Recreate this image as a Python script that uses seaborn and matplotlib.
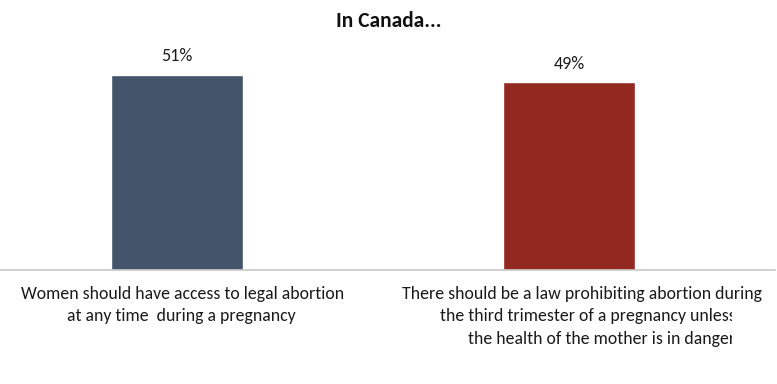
import matplotlib
matplotlib.use("Agg")
import matplotlib.pyplot as plt
import matplotlib.transforms as mtransforms
import seaborn as sns
import pandas as pd

title = "In Canada..."
categories = ["access", "law"]
values = [51, 49]
value_labels = ["51%", "49%"]
colors = ["#44546A", "#922820"]
label_lines = [
    ["Women should have access to legal abortion", "at any time  during a pregnancy"],
    ["There should be a law prohibiting abortion during",
     "the third trimester of a pregnancy unless",
     "the health of the mother is in danger"],
]
# horizontal nudge (px) of each label line from its bar centre
label_shift = [[5, 4], [13, 19, 33]]

sns.set_theme(style="white")
plt.rcParams["font.family"] = ["Carlito", "DejaVu Sans"]

df = pd.DataFrame({"cat": categories, "val": values})

fig = plt.figure(figsize=(7.77, 3.84), dpi=100)
ax = fig.add_axes([0, (384 - 270) / 384, 775 / 777, 230 / 384])

sns.barplot(data=df, x="cat", y="val", hue="cat", palette=colors, legend=False,
            width=0.337, ax=ax, saturation=1)

ax.set_ylim(0, 60)
ax.set_xlim(-0.452, 1.526)
ax.set_xticks([])
ax.set_yticks([])
ax.set_xlabel("")
ax.set_ylabel("")
for s in ["top", "left", "right"]:
    ax.spines[s].set_visible(False)
ax.spines["bottom"].set_color("#C8C8C8")
ax.spines["bottom"].set_linewidth(1.2)

for i, (v, lab) in enumerate(zip(values, value_labels)):
    ax.annotate(lab, (i, v), xytext=(0, 13), textcoords="offset points",
                ha="center", va="center", fontsize=13, color="#1a1a1a")

fig.text(389 / 777, 1 - 21 / 384, title, ha="center", va="center",
         fontsize=15.5, fontweight="bold", color="#111111")

# category labels below the baseline; right one is cut at the edge
clip = mtransforms.Bbox([[0, 0], [732, 384]])
for i, lines in enumerate(label_lines):
    for j, line in enumerate(lines):
        shift = mtransforms.ScaledTranslation(label_shift[i][j] / 100, -(24 + 22.5 * j) / 100,
                                              fig.dpi_scale_trans)
        t = ax.text(i, 0, line, ha="center", va="center",
                    fontsize=12.8, color="#1a1a1a", clip_on=False,
                    transform=ax.transData + shift)
        if i == 1 and j > 0:
            t.set_clip_box(clip)
            t.set_clip_on(True)

fig.savefig("out.png", dpi=100)
